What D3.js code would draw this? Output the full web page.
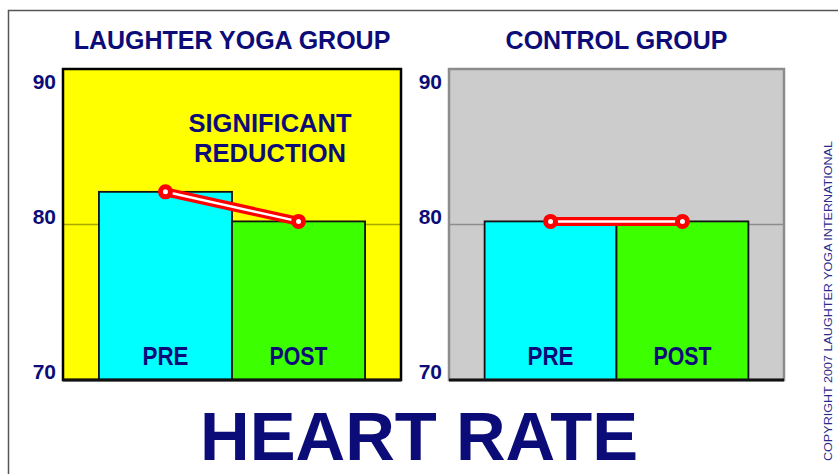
<!DOCTYPE html>
<html>
<head>
<meta charset="utf-8">
<script src="https://cdn.jsdelivr.net/npm/d3@7"></script>
<style>
  body { margin: 0; background: #fff; }
  svg { display: block; font-family: "Liberation Sans", Arial, sans-serif; font-weight: bold; }
</style>
</head>
<body>
<svg id="chart" width="838" height="474"></svg>
<script>
const categories = ["PRE", "POST"];
const groupTitles = ["LAUGHTER YOGA GROUP", "CONTROL GROUP"];
const yogaValues = [82.1, 80.2];
const controlValues = [80.2, 80.2];
const yTicks = [70, 80, 90];
const noteLines = ["SIGNIFICANT", "REDUCTION"];
const mainTitle = "HEART RATE";
const copyright = "COPYRIGHT 2007 LAUGHTER YOGA INTERNATIONAL";

const navy = "#0c0c78";
const barColors = { PRE: "#00ffff", POST: "#3cff00" };

/*
    one panel = background box, gridline, two bars, the pre/post line
*/
function panelGenerator(){
    let width = 338;
    let height = 311;
    let bg = "#ffff00";
    let frame = "#000";
    let grid = "#a8a800";
    const y = d3.scaleLinear().domain([70, 90]);
    const x = d3.scaleBand().domain(categories).paddingInner(0).paddingOuter(0.27);

    function myPanel(selection){
        selection.each(function(d){
            const g = d3.select(this);
            y.range([height, 0]);
            x.range([0, width]);

            g.append("rect")
                .attr("width", width)
                .attr("height", height)
                .attr("fill", bg);

            g.selectAll("line.grid")
                .data(yTicks.slice(1, -1))
                .join("line")
                    .attr("class", "grid")
                    .attr("x1", 0).attr("x2", width)
                    .attr("y1", v => y(v)).attr("y2", v => y(v))
                    .attr("stroke", grid)
                    .attr("stroke-width", 1.5);

            const rows = categories.map((c, i) => ({ cat: c, value: d.values[i] }));

            g.selectAll("rect.bar")
                .data(rows)
                .join("rect")
                    .attr("class", "bar")
                    .attr("x", r => x(r.cat))
                    .attr("y", r => y(r.value))
                    .attr("width", x.bandwidth())
                    .attr("height", r => height - y(r.value))
                    .attr("fill", r => barColors[r.cat])
                    .attr("stroke", "#111")
                    .attr("stroke-width", 1.8);

            g.append("rect")
                .attr("width", width)
                .attr("height", height)
                .attr("fill", "none")
                .attr("stroke", frame)
                .attr("stroke-width", 2.5);

            g.append("line")
                .attr("x1", 0).attr("x2", width)
                .attr("y1", height).attr("y2", height)
                .attr("stroke", "#111")
                .attr("stroke-width", 3);

            g.selectAll("text.cat")
                .data(rows)
                .join("text")
                    .attr("class", "cat")
                    .attr("x", r => x(r.cat) + x.bandwidth() / 2)
                    .attr("y", height - 15)
                    .attr("text-anchor", "middle")
                    .attr("font-size", 25)
                    .attr("fill", navy)
                    .attr("textLength", r => r.cat === "PRE" ? 46 : 58)
                    .attr("lengthAdjust", "spacingAndGlyphs")
                    .text(r => r.cat);

            // ticks
            g.selectAll("text.tick")
                .data(yTicks)
                .join("text")
                    .attr("class", "tick")
                    .attr("x", -7)
                    .attr("y", v => y(v) + (v === yTicks[yTicks.length - 1] ? 20 : -1))
                    .attr("text-anchor", "end")
                    .attr("font-size", 21)
                    .attr("fill", navy)
                    .text(v => v);

            // pre/post line
            const line = d3.line()
                .x(r => x(r.cat) + x.bandwidth() / 2)
                .y(r => y(r.value));
            g.append("path")
                .attr("d", line(rows))
                .attr("fill", "none")
                .attr("stroke", "#ff0000")
                .attr("stroke-width", 9);
            g.append("path")
                .attr("d", line(rows))
                .attr("fill", "none")
                .attr("stroke", "#fff")
                .attr("stroke-width", 2.5);
            g.selectAll("circle.pt")
                .data(rows)
                .join("circle")
                    .attr("class", "pt")
                    .attr("cx", r => x(r.cat) + x.bandwidth() / 2)
                    .attr("cy", r => y(r.value))
                    .attr("r", 5)
                    .attr("fill", "#fff")
                    .attr("stroke", "#ff0000")
                    .attr("stroke-width", 5);

            // title
            g.append("text")
                .attr("x", width / 2)
                .attr("y", -20)
                .attr("text-anchor", "middle")
                .attr("font-size", 25)
                .attr("fill", navy)
                .text(d.title);
        });
        return selection;
    }

    // api
    myPanel.width = function(value){
        if (!arguments.length) { return width; }
        width = value;
        return myPanel;
    };
    myPanel.height = function(value){
        if (!arguments.length) { return height; }
        height = value;
        return myPanel;
    };
    myPanel.bg = function(value){ bg = value; return myPanel; };
    myPanel.frame = function(value){ frame = value; return myPanel; };
    myPanel.grid = function(value){ grid = value; return myPanel; };
    myPanel.y = () => y;
    return myPanel;
}

const svg = d3.select("#chart");

// outer frame (runs off right/bottom)
svg.append("path")
    .attr("d", "M8.5,480 V10.5 H840")
    .attr("fill", "none")
    .attr("stroke", "#555")
    .attr("stroke-width", 1.5);

const yogaPanel = panelGenerator().width(338).height(311);
const controlPanel = panelGenerator().width(335).height(311)
    .bg("#cccccc").frame("#8c8c8c").grid("#8c8c8c");

svg.append("g")
    .attr("transform", "translate(63,69)")
    .datum({ title: groupTitles[0], values: yogaValues })
    .call(yogaPanel);

svg.append("g")
    .attr("transform", "translate(449,69)")
    .datum({ title: groupTitles[1], values: controlValues })
    .call(controlPanel);

// note
svg.append("text")
    .attr("text-anchor", "middle")
    .attr("font-size", 26)
    .attr("fill", navy)
    .selectAll("tspan")
    .data(noteLines)
    .join("tspan")
        .attr("x", 270)
        .attr("y", (d, i) => 132 + i * 30)
        .attr("textLength", (d, i) => i === 0 ? 163 : 152)
        .attr("lengthAdjust", "spacingAndGlyphs")
        .text(d => d);

// big title
svg.append("text")
    .attr("x", 419)
    .attr("y", 460)
    .attr("text-anchor", "middle")
    .attr("font-size", 69)
    .attr("fill", navy)
    .attr("textLength", 438)
    .attr("lengthAdjust", "spacingAndGlyphs")
    .text(mainTitle);

// copyright
svg.append("text")
    .attr("transform", "translate(832,461) rotate(-90)")
    .attr("font-size", 11)
    .attr("font-weight", "normal")
    .attr("fill", "#2a2a8a")
    .attr("textLength", 320)
    .attr("lengthAdjust", "spacingAndGlyphs")
    .text(copyright);
</script>
</body>
</html>
